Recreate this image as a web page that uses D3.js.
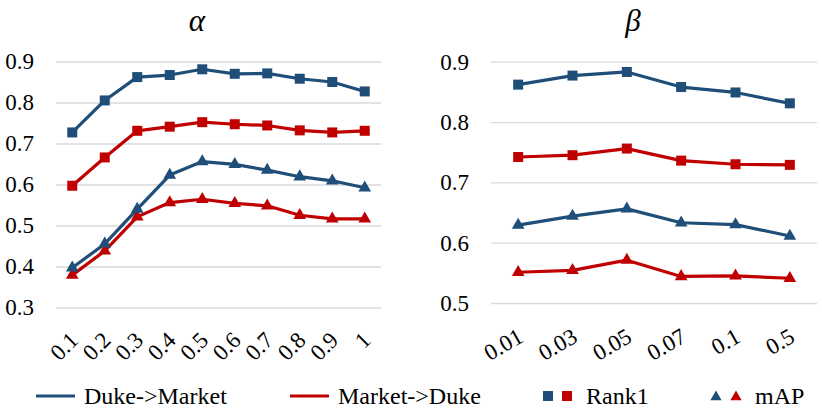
<!DOCTYPE html>
<html>
<head>
<meta charset="utf-8">
<script src="https://cdn.jsdelivr.net/npm/d3@7"></script>
<style>
  body { margin: 0; background: #fff; }
</style>
</head>
<body>
<div id="chart"></div>
<script>
// alpha panel
const alphaCats = ["0.1", "0.2", "0.3", "0.4", "0.5", "0.6", "0.7", "0.8", "0.9", "1"];
const alphaDMRank1 = [0.727, 0.805, 0.862, 0.867, 0.881, 0.870, 0.871, 0.858, 0.850, 0.827];
const alphaMDRank1 = [0.597, 0.666, 0.731, 0.741, 0.752, 0.747, 0.744, 0.732, 0.727, 0.731];
const alphaDMmAP = [0.397, 0.455, 0.540, 0.623, 0.656, 0.649, 0.635, 0.619, 0.609, 0.592];
const alphaMDmAP = [0.379, 0.438, 0.521, 0.556, 0.564, 0.554, 0.548, 0.525, 0.516, 0.516];
const alphaTicks = [0.3, 0.4, 0.5, 0.6, 0.7, 0.8, 0.9];

// beta panel
const betaCats = ["0.01", "0.03", "0.05", "0.07", "0.1", "0.5"];
const betaDMRank1 = [0.862, 0.877, 0.883, 0.858, 0.849, 0.831];
const betaMDRank1 = [0.742, 0.745, 0.756, 0.736, 0.730, 0.729];
const betaDMmAP = [0.629, 0.644, 0.656, 0.633, 0.630, 0.611];
const betaMDmAP = [0.551, 0.554, 0.571, 0.544, 0.545, 0.541];
const betaTicks = [0.5, 0.6, 0.7, 0.8, 0.9];

const blue = "#1f4e79", red = "#c00000", gridColor = "#d9d9d9";
const serif = "'Times New Roman', 'Liberation Serif', 'DejaVu Serif', serif";

const svg = d3.select("#chart").append("svg")
  .attr("width", 822)
  .attr("height", 417)
  .style("font-family", serif);

function panel(opts) {
  const x = d3.scalePoint().domain(opts.cats).range([opts.x0, opts.x1]).padding(0.5);
  const y = d3.scaleLinear().domain(opts.domain).range([opts.y0, opts.y1]);

  // y axis + gridlines
  const ya = svg.append("g")
    .attr("transform", "translate(" + opts.x0 + ",0)")
    .call(d3.axisLeft(y).tickValues(opts.ticks).tickFormat(d3.format(".1f"))
      .tickSize(-(opts.x1 - opts.x0)).tickPadding(22));
  ya.select(".domain").remove();
  ya.selectAll(".tick line").attr("stroke", gridColor).attr("stroke-width", 1.3);
  ya.selectAll(".tick text").style("font-size", "23px").style("font-family", serif);

  // x axis labels, rotated
  const xa = svg.append("g")
    .attr("transform", "translate(0," + opts.y0 + ")")
    .call(d3.axisBottom(x).tickSize(0).tickPadding(0));
  xa.select(".domain").remove();
  xa.selectAll(".tick text")
    .style("font-size", "23px")
    .style("font-family", serif)
    .attr("text-anchor", "end")
    .attr("dy", 0)
    .attr("y", 0)
    .attr("transform", "translate(" + opts.lx + "," + opts.ly + ") rotate(" + opts.rot + ")");

  const line = d3.line().x((d, i) => x(opts.cats[i])).y(d => y(d));
  const series = [
    { v: opts.dmR, c: blue, s: d3.symbolSquare, size: 100 },
    { v: opts.mdR, c: red, s: d3.symbolSquare, size: 100 },
    { v: opts.dmM, c: blue, s: d3.symbolTriangle, size: 70 },
    { v: opts.mdM, c: red, s: d3.symbolTriangle, size: 70 }
  ];
  // mAP first so rank lines sit on top
  [series[3], series[2], series[1], series[0]].forEach(s => {
    svg.append("path")
      .attr("d", line(s.v))
      .attr("fill", "none")
      .attr("stroke", s.c)
      .attr("stroke-width", 3.2)
      .attr("stroke-linejoin", "round");
    svg.selectAll(null).data(s.v).enter().append("path")
      .attr("d", d3.symbol().type(s.s).size(s.size))
      .attr("transform", (d, i) => "translate(" + x(opts.cats[i]) + "," + y(d) + ")")
      .attr("fill", s.c);
  });

  svg.append("text")
    .attr("x", opts.tx)
    .attr("y", 31)
    .attr("text-anchor", "middle")
    .style("font-family", serif)
    .style("font-size", "31px")
    .style("font-style", "italic")
    .text(opts.title);
}

panel({
  cats: alphaCats, dmR: alphaDMRank1, mdR: alphaMDRank1, dmM: alphaDMmAP, mdM: alphaMDmAP,
  ticks: alphaTicks, domain: [0.3, 0.9],
  x0: 56, x1: 381, y0: 307.5, y1: 61.5,
  lx: 7, ly: 34, rot: -45, title: "α", tx: 197
});

panel({
  cats: betaCats, dmR: betaDMRank1, mdR: betaMDRank1, dmM: betaDMmAP, mdM: betaMDmAP,
  ticks: betaTicks, domain: [0.5, 0.9],
  x0: 491, x1: 817, y0: 303, y1: 61.7,
  lx: 6, ly: 38, rot: -30, title: "β", tx: 633
});

// legend
const lg = svg.append("g").style("font-family", serif).style("font-size", "24px");
const legendY = 396;
lg.append("line").attr("x1", 36).attr("x2", 75).attr("y1", legendY).attr("y2", legendY)
  .attr("stroke", blue).attr("stroke-width", 3.2);
lg.append("text").attr("x", 84).attr("y", 404).text("Duke->Market");
lg.append("line").attr("x1", 290).attr("x2", 329).attr("y1", legendY).attr("y2", legendY)
  .attr("stroke", red).attr("stroke-width", 3.2);
lg.append("text").attr("x", 338).attr("y", 404).text("Market->Duke");
[[548, blue], [567, red]].forEach(([cx, c]) => {
  lg.append("path").attr("d", d3.symbol().type(d3.symbolSquare).size(100))
    .attr("transform", "translate(" + cx + "," + legendY + ")").attr("fill", c);
});
lg.append("text").attr("x", 586).attr("y", 404).text("Rank1");
[[716, blue], [736, red]].forEach(([cx, c]) => {
  lg.append("path").attr("d", d3.symbol().type(d3.symbolTriangle).size(55))
    .attr("transform", "translate(" + cx + "," + (legendY + 1) + ")").attr("fill", c);
});
lg.append("text").attr("x", 755).attr("y", 404).text("mAP");
</script>
</body>
</html>
